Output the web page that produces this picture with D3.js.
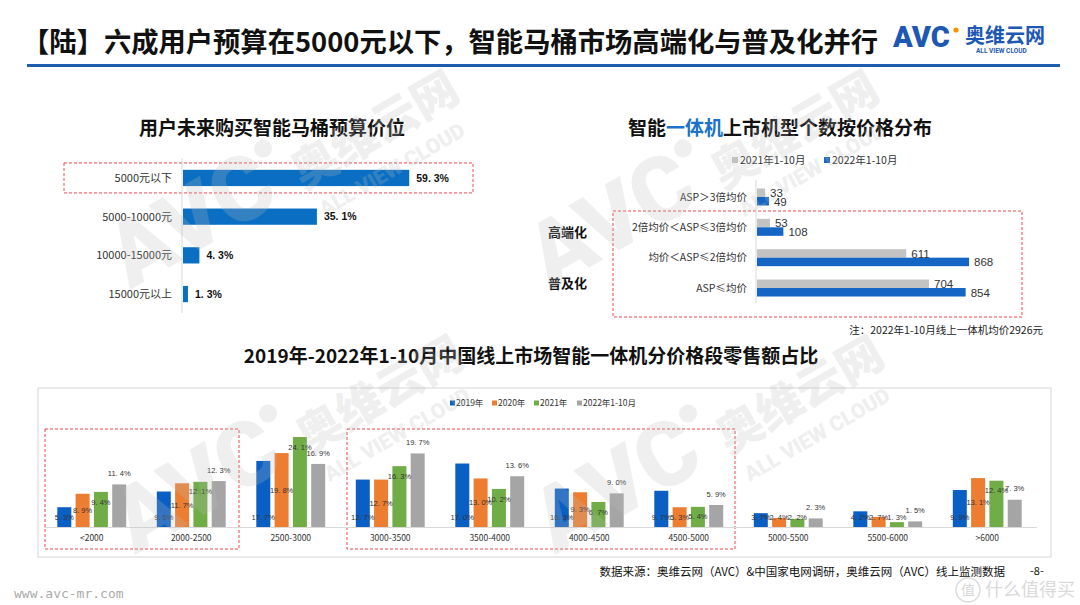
<!DOCTYPE html>
<html>
<head>
<meta charset="utf-8">
<script src="https://cdn.jsdelivr.net/npm/d3@7"></script>
<style>
body { margin: 0; background: #fff; }
svg { display: block; font-family: "Noto Sans CJK SC", "Noto Sans", sans-serif; }
</style>
</head>
<body>
<div id="chart"></div>
<script>
// budget question (left)
const budgetCats = ["5000元以下", "5000-10000元", "10000-15000元", "15000元以上"]
const budgetVals = [59.3, 35.1, 4.3, 1.3]

// model counts by price tier (right)
const aspCats = ["ASP＞3倍均价", "2倍均价＜ASP≤3倍均价", "均价＜ASP≤2倍均价", "ASP≤均价"]
const aspSeries = ["2021年1-10月", "2022年1-10月"]
const models2021 = [33, 53, 611, 704]
const models2022 = [49, 108, 868, 854]

// retail share by price band (bottom)
const priceBands = ["<2000", "2000-2500", "2500-3000", "3000-3500", "3500-4000", "4000-4500", "4500-5000", "5000-5500", "5500-6000", ">6000"]
const yearSeries = ["2019年", "2020年", "2021年", "2022年1-10月"]
const share2019 = [5.3, 9.5, 17.7, 12.7, 17.0, 10.3, 9.7, 3.7, 4.2, 9.9]
const share2020 = [8.9, 11.7, 19.8, 12.7, 13.0, 9.3, 5.3, 2.4, 2.7, 13.1]
const share2021 = [9.4, 12.1, 24.1, 16.3, 10.2, 6.7, 5.4, 2.2, 1.3, 12.4]
const share2022 = [11.4, 12.3, 16.9, 19.7, 13.6, 9.0, 5.9, 2.3, 1.5, 7.3]

const W = 1080, H = 605
const red = "#f0464b"
const fmtPct = v => v.toFixed(1).replace(".", ". ") + "%"

const svg = d3.select("#chart").append("svg").attr("width", W).attr("height", H)

// ---- header
svg.append("text")
    .attr("x", 22).attr("y", 52)
    .attr("font-size", 27.3).attr("font-weight", 700).attr("fill", "#111")
    .text("【陆】六成用户预算在5000元以下，智能马桶市场高端化与普及化并行")

svg.append("rect").attr("x", 27).attr("y", 64).attr("width", 1033).attr("height", 3).attr("fill", "#1f5cb0")

var logo = svg.append("g").attr("transform", "translate(893,47)")
logo.append("text").text("AVC")
    .attr("font-family", "Roboto, sans-serif").attr("font-size", 29).attr("font-weight", 900)
    .attr("fill", "#1d58b3")
logo.append("circle").attr("cx", 63).attr("cy", -17).attr("r", 2.6).attr("fill", "#f29600")
logo.append("text").text("奥维云网").attr("x", 72).attr("y", -4)
    .attr("font-size", 20).attr("font-weight", 700).attr("fill", "#1d58b3")
logo.append("text").text("ALL VIEW CLOUD").attr("x", 83).attr("y", 6)
    .attr("font-family", "Roboto, sans-serif").attr("font-size", 6.5).attr("font-weight", 700).attr("fill", "#1d58b3")

// ---- left: budget bars
svg.append("text").attr("x", 272).attr("y", 135).attr("text-anchor", "middle")
    .attr("font-size", 19).attr("font-weight", 700).attr("fill", "#111")
    .text("用户未来购买智能马桶预算价位")

var xB = d3.scaleLinear().domain([0, 70]).range([182, 182 + 70 * 3.815])
var yB = d3.scaleBand().domain(budgetCats).range([158.6, 313.4]).paddingInner(0.58).paddingOuter(0.29)

svg.append("rect")
    .attr("x", 64).attr("y", yB(budgetCats[0]) + yB.bandwidth() / 2 - 15)
    .attr("width", 409).attr("height", 30)
    .attr("fill", "none").attr("stroke", red).attr("stroke-dasharray", "3,2")

svg.append("line").attr("x1", xB(0)).attr("x2", xB(0)).attr("y1", 158).attr("y2", 313)
    .attr("stroke", "#d9d9d9")

svg.selectAll("rect.budget").data(budgetVals).join("rect")
    .attr("class", "budget")
    .attr("x", xB(0) + 1).attr("y", (d, i) => yB(budgetCats[i]))
    .attr("width", d => xB(d) - xB(0)).attr("height", yB.bandwidth())
    .attr("fill", "#0a6fc2")

svg.selectAll("text.budget-cat").data(budgetCats).join("text")
    .attr("class", "budget-cat")
    .attr("x", 172).attr("y", d => yB(d) + yB.bandwidth() / 2).attr("dy", "0.35em")
    .attr("text-anchor", "end").attr("font-size", 11).attr("fill", "#333")
    .text(d => d)

svg.selectAll("text.budget-val").data(budgetVals).join("text")
    .attr("class", "budget-val")
    .attr("x", d => xB(d) + 8).attr("y", (d, i) => yB(budgetCats[i]) + yB.bandwidth() / 2).attr("dy", "0.35em")
    .attr("font-family", "'Liberation Sans', sans-serif")
    .attr("font-size", 10.5).attr("font-weight", 700).attr("fill", "#111")
    .text(fmtPct)

// ---- right: model counts
var rt = svg.append("text").attr("x", 628).attr("y", 135)
    .attr("font-size", 19).attr("font-weight", 700).attr("fill", "#111")
rt.append("tspan").text("智能")
rt.append("tspan").text("一体机").attr("fill", "#1a73c8")
rt.append("tspan").text("上市机型个数按价格分布")

var aspColors = ["#c3c3c3", "#1565c4"]
var lg = svg.append("g").attr("font-size", 10.5).attr("fill", "#333")
aspSeries.forEach((s, i) => {
    var lx = [732, 824][i]
    lg.append("rect").attr("x", lx).attr("y", 157).attr("width", 6).attr("height", 6).attr("fill", aspColors[i])
    lg.append("text").attr("x", lx + 8).attr("y", 160).attr("dy", "0.35em").text(s)
})

var xA = d3.scaleLinear().domain([0, 1000]).range([756, 756 + 1000 * 0.2443])
var yA = d3.scaleBand().domain(aspCats).range([181.8, 303.2]).paddingInner(0.44).paddingOuter(0.22)
var yA1 = d3.scaleBand().domain(aspSeries).range([0, yA.bandwidth()])

svg.append("rect").attr("x", 613).attr("y", 211).attr("width", 409).attr("height", 106)
    .attr("fill", "none").attr("stroke", red).attr("stroke-dasharray", "3,2")

svg.append("line").attr("x1", xA(0)).attr("x2", xA(0)).attr("y1", 180).attr("y2", 303)
    .attr("stroke", "#d9d9d9")

var aspRows = aspCats.map((c, i) => [
    {cat: c, s: aspSeries[0], v: models2021[i]},
    {cat: c, s: aspSeries[1], v: models2022[i]}
]).flat()

svg.selectAll("rect.asp").data(aspRows).join("rect")
    .attr("class", "asp")
    .attr("x", xA(0) + 1).attr("y", d => yA(d.cat) + yA1(d.s))
    .attr("width", d => xA(d.v) - xA(0)).attr("height", yA1.bandwidth())
    .attr("fill", d => d.s === aspSeries[0] ? aspColors[0] : aspColors[1])

svg.selectAll("text.asp-val").data(aspRows).join("text")
    .attr("class", "asp-val")
    .attr("x", d => xA(d.v) + 6).attr("y", d => yA(d.cat) + yA1(d.s) + yA1.bandwidth() / 2).attr("dy", "0.38em")
    .attr("font-family", "'Liberation Sans', sans-serif").attr("font-size", 11.5).attr("fill", "#333")
    .text(d => d.v)

svg.selectAll("text.asp-cat").data(aspCats).join("text")
    .attr("class", "asp-cat")
    .attr("x", 747).attr("y", d => yA(d) + yA.bandwidth() / 2).attr("dy", "0.35em")
    .attr("text-anchor", "end").attr("font-size", 10.5).attr("fill", "#333")
    .text(d => d)

svg.append("text").attr("x", 548).attr("y", 232).attr("dy", "0.35em")
    .attr("font-size", 13).attr("font-weight", 700).attr("fill", "#111").text("高端化")
svg.append("text").attr("x", 548).attr("y", 283).attr("dy", "0.35em")
    .attr("font-size", 13).attr("font-weight", 700).attr("fill", "#111").text("普及化")

svg.append("text").attr("x", 1043).attr("y", 330).attr("dy", "0.35em").attr("text-anchor", "end")
    .attr("font-size", 10.5).attr("fill", "#222").text("注：2022年1-10月线上一体机均价2926元")

// ---- bottom: share by price band
svg.append("text").attr("x", 531).attr("y", 363).attr("text-anchor", "middle")
    .attr("font-size", 19).attr("font-weight", 700).attr("fill", "#111")
    .text("2019年-2022年1-10月中国线上市场智能一体机分价格段零售额占比")

svg.append("rect").attr("x", 38).attr("y", 388).attr("width", 1013).attr("height", 169)
    .attr("fill", "none").attr("stroke", "#d6d6d6")

var yearColors = ["#0a5fc4", "#ed7d31", "#70ad47", "#a5a5a5"]
var shares = [share2019, share2020, share2021, share2022]

var x0 = d3.scaleBand().domain(priceBands).range([42, 1037])
var x1 = d3.scaleBand().domain(yearSeries).range([0, x0.bandwidth()]).paddingInner(0.235).paddingOuter(0.836)
var yS = d3.scaleLinear().domain([0, 30]).range([527, 415])

// legend
var lg2 = svg.append("g").attr("font-size", 8.5).attr("fill", "#333")
yearSeries.forEach((s, i) => {
    var lx = [450, 492, 534, 577][i]
    lg2.append("rect").attr("x", lx).attr("y", 400.5).attr("width", 5).attr("height", 5).attr("fill", yearColors[i])
    lg2.append("text").attr("x", lx + 6).attr("y", 403).attr("dy", "0.35em").text(s)
})

svg.append("rect").attr("x", 45).attr("y", 429).attr("width", 194).attr("height", 120)
    .attr("fill", "none").attr("stroke", red).attr("stroke-dasharray", "3,2")
svg.append("rect").attr("x", 347).attr("y", 429).attr("width", 388).attr("height", 120)
    .attr("fill", "none").attr("stroke", red).attr("stroke-dasharray", "3,2")

svg.append("line").attr("x1", 44).attr("x2", 1037).attr("y1", yS(0) + 0.5).attr("y2", yS(0) + 0.5)
    .attr("stroke", "#d9d9d9")

var shareRows = priceBands.map((b, i) => yearSeries.map((s, j) => ({band: b, s: s, j: j, v: shares[j][i]}))).flat()

svg.selectAll("rect.share").data(shareRows).join("rect")
    .attr("class", "share")
    .attr("x", d => x0(d.band) + x1(d.s)).attr("y", d => yS(d.v))
    .attr("width", x1.bandwidth()).attr("height", d => yS(0) - yS(d.v))
    .attr("fill", d => yearColors[d.j])

// label placement: base / center / inside end / outside end
function labelY(d) {
    var top = yS(d.v), base = yS(0)
    if (d.j === 0) return base - 10
    if (d.j === 1) return Math.min((top + base) / 2, base - 10)
    if (d.j === 2) return Math.min(top + 10, base - 10)
    return top - 11
}

svg.selectAll("text.share-val").data(shareRows).join("text")
    .attr("class", "share-val")
    .attr("x", d => x0(d.band) + x1(d.s) + x1.bandwidth() / 2).attr("y", labelY).attr("dy", "0.35em")
    .attr("text-anchor", "middle")
    .attr("font-family", "'Liberation Sans', sans-serif").attr("font-size", 7.5).attr("fill", "#333")
    .text(d => fmtPct(d.v))

svg.selectAll("text.band").data(priceBands).join("text")
    .attr("class", "band")
    .attr("x", d => x0(d) + x0.bandwidth() / 2).attr("y", 538).attr("dy", "0.35em")
    .attr("text-anchor", "middle").attr("font-size", 8.5).attr("fill", "#333")
    .text(d => d)

// ---- footer
svg.append("text").attr("x", 1005).attr("y", 572).attr("dy", "0.35em").attr("text-anchor", "end")
    .attr("font-size", 11.5).attr("fill", "#111")
    .text("数据来源：奥维云网（AVC）&中国家电网调研，奥维云网（AVC）线上监测数据")
svg.append("text").attr("x", 1030).attr("y", 571).attr("dy", "0.35em")
    .attr("font-size", 11).attr("fill", "#111").text("-8-")
svg.append("text").attr("x", 14).attr("y", 593).attr("dy", "0.35em")
    .attr("font-family", "'DejaVu Sans Mono', monospace").attr("font-size", 13).attr("fill", "#aaa")
    .text("www.avc-mr.com")

// site stamp, lower right
svg.append("circle").attr("cx", 968).attr("cy", 590).attr("r", 12)
    .attr("fill", "none").attr("stroke", "#dcdcdc").attr("stroke-width", 1.5)
svg.append("text").attr("x", 968).attr("y", 590).attr("dy", "0.35em").attr("text-anchor", "middle")
    .attr("font-size", 14).attr("fill", "#d8d8d8").text("值")
svg.append("text").attr("x", 985).attr("y", 590).attr("dy", "0.35em")
    .attr("font-size", 18).attr("fill", "#dadada").text("什么值得买")

// ---- faint diagonal watermarks, drawn on top like the original
function watermark(x, y) {
    var w = svg.append("g").attr("transform", `translate(${x},${y}) rotate(-30)`)
        .attr("fill", "#bdbdbd").attr("opacity", 0.23).attr("pointer-events", "none")
    w.append("text").text("AVC").attr("font-family", "Roboto, sans-serif")
        .attr("font-size", 90).attr("font-weight", 900)
    w.append("circle").attr("cx", 186).attr("cy", -56).attr("r", 9)
    w.append("text").text("奥维云网").attr("x", 200).attr("font-size", 46).attr("font-weight", 900)
    w.append("text").text("ALL VIEW CLOUD").attr("x", 205).attr("y", 34)
        .attr("font-family", "Roboto, sans-serif").attr("font-size", 21).attr("font-weight", 900)
}
watermark(130, 290)
watermark(550, 290)
watermark(135, 555)
watermark(555, 555)
</script>
</body>
</html>
